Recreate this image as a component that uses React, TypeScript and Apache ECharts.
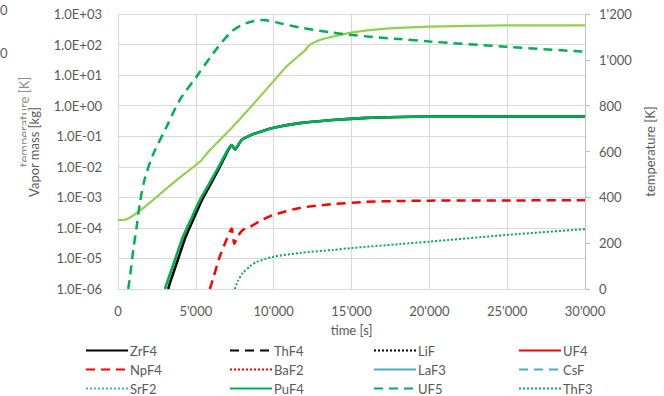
import React, { useEffect, useRef } from "react";
import * as echarts from "echarts";

// ---- tick settings ----
const xMin = 0;
const xMax = 30000;
const xStep = 5000;
const massMin = 1e-6;
const massMax = 1e3;
const tempMin = 0;
const tempMax = 1200;
const tempStep = 200;

// ---- legend names ----
const legendNames = [
  "ZrF4", "ThF4", "LiF", "UF4",
  "NpF4", "BaF2", "LaF3", "CsF",
  "SrF2", "PuF4", "UF5", "ThF3",
];

// ---- series data (time [s], vapor mass [kg]) ----
const zrf4T = [3220, 3340, 3840, 4340, 4830, 5390, 5880, 6430, 6730, 7080, 7320, 7510, 7950, 8500, 9100, 9936, 11667, 13782, 15962, 18077, 20000, 25000, 30000];
const zrf4V = [1e-6, 1.58e-6, 8.9e-6, 5.0e-5, 1.86e-4, 8.1e-4, 2.34e-3, 7.8e-3, 0.0155, 0.0355, 0.05, 0.037, 0.076, 0.107, 0.138, 0.186, 0.269, 0.339, 0.398, 0.427, 0.437, 0.44, 0.44];

const puf4T = [3013, 3141, 3654, 4167, 4679, 5256, 5769, 6346, 6667, 7051, 7308, 7500, 7950, 8500, 9100, 9936, 11667, 13782, 15962, 18077, 20000, 25000, 30000];
const puf4V = [1e-6, 1.58e-6, 8.9e-6, 5.0e-5, 1.86e-4, 8.1e-4, 2.34e-3, 7.8e-3, 0.0155, 0.0355, 0.051, 0.038, 0.076, 0.107, 0.138, 0.186, 0.269, 0.339, 0.398, 0.427, 0.437, 0.44, 0.44];

const npf4T = [5900, 6026, 6538, 7000, 7300, 7470, 7750, 8010, 8460, 9230, 9936, 11667, 13782, 15962, 18077, 20000, 25000, 30000];
const npf4V = [1e-6, 1.6e-6, 1.15e-5, 4.5e-5, 9.5e-5, 3.0e-5, 5.8e-5, 8.5e-5, 1.07e-4, 1.8e-4, 2.6e-4, 4.5e-4, 6.0e-4, 7.1e-4, 7.6e-4, 7.8e-4, 7.9e-4, 8.1e-4];

const uf5T = [660, 769, 981, 1199, 1410, 1700, 2244, 3122, 3974, 5045, 6109, 7288, 8250, 9314, 10385, 11667, 13782, 15064, 18077, 20000, 24936, 30000];
const uf5V = [1e-6, 2.5e-6, 1.9e-5, 1.1e-4, 6.6e-4, 3.7e-3, 0.0245, 0.204, 1.55, 8.9, 51, 263, 501, 631, 501, 363, 245, 204, 151, 126, 85, 58];

const thf3T = [7500, 7700, 8013, 8500, 8910, 9936, 11667, 13782, 15000, 18077, 20000, 25000, 30000];
const thf3V = [1e-6, 1.8e-6, 3.35e-6, 5.6e-6, 7.7e-6, 1.12e-5, 1.51e-5, 1.9e-5, 2.19e-5, 2.95e-5, 3.55e-5, 5.9e-5, 9.1e-5];

// ---- temperature (time [s], K) ----
const tempT = [0, 500, 1000, 1600, 2244, 3141, 4167, 5256, 5897, 7372, 9314, 10814, 12000, 12308, 13000, 13782, 15064, 17000, 20000, 25000, 30000];
const tempK = [300, 303, 322, 352, 388, 440, 497, 555, 606, 708, 854, 970, 1040, 1065, 1088, 1101, 1120, 1135, 1145, 1150, 1150];

const C_BLACK = "#000000";
const C_RED = "#ff0000";
const C_BLUE = "#4bacc6";
const C_GREEN = "#00b050";
const C_LGREEN = "#92d050";
const C_TEXT = "#595959";
const C_GRID = "#d9d9d9";
const FONT = "Lato";

const zip = (t: number[], v: number[]) => t.map((x, i) => [x, v[i]]);
const fmtThousands = (v: number) => String(v).replace(/\B(?=(\d{3})+(?!\d))/g, "'");
const fmtSci = (v: number) => {
  const e = Math.round(Math.log10(v));
  return `1.0E${e < 0 ? "-" : "+"}${String(Math.abs(e)).padStart(2, "0")}`;
};

const DASH = [9, 6];
const DOT = [2, 2];

function mk(name: string, data: number[][], color: string, type: any, width: number, yAxisIndex = 0, smooth = 0.25) {
  return {
    name,
    type: "line",
    yAxisIndex,
    data,
    symbol: "none",
    showSymbol: false,
    smooth,
    clip: true,
    lineStyle: { color, type, width },
    itemStyle: { color },
  };
}

const seriesList = [
  { name: "__temp", data: zip(tempT, tempK), color: C_LGREEN, type: "solid", width: 2.2, y: 1, s: 0.2 },
  { name: "ThF4", data: [], color: C_BLACK, type: DASH, width: 2.5, y: 0, s: 0 },
  { name: "LiF", data: [], color: C_BLACK, type: DOT, width: 2, y: 0, s: 0 },
  { name: "UF4", data: [], color: C_RED, type: "solid", width: 2.5, y: 0, s: 0 },
  { name: "BaF2", data: [], color: C_RED, type: DOT, width: 2, y: 0, s: 0 },
  { name: "LaF3", data: [], color: C_BLUE, type: "solid", width: 3, y: 0, s: 0 },
  { name: "CsF", data: [], color: C_BLUE, type: DASH, width: 2.5, y: 0, s: 0 },
  { name: "SrF2", data: [], color: C_BLUE, type: DOT, width: 2, y: 0, s: 0 },
  { name: "UF5", data: zip(uf5T, uf5V), color: C_GREEN, type: DASH, width: 2.5, y: 0, s: 0.3 },
  { name: "ZrF4", data: zip(zrf4T, zrf4V), color: C_BLACK, type: "solid", width: 2.6, y: 0, s: 0.2 },
  { name: "PuF4", data: zip(puf4T, puf4V), color: C_GREEN, type: "solid", width: 2.6, y: 0, s: 0.2 },
  { name: "NpF4", data: zip(npf4T, npf4V), color: C_RED, type: DASH, width: 2.5, y: 0, s: 0.2 },
  { name: "ThF3", data: zip(thf3T, thf3V), color: C_GREEN, type: DOT, width: 2, y: 0, s: 0.25 },
];

const legendCols = [85, 229, 373, 518];
const legendRows = [344, 363, 382];

export default function App() {
  const ref = useRef<HTMLDivElement>(null);
  useEffect(() => {
    const chart = echarts.init(ref.current!, null, { renderer: "svg" });
    const textStyle = { color: C_TEXT, fontFamily: FONT, fontSize: 13 };
    const option: any = {
      animation: false,
      backgroundColor: "#ffffff",
      textStyle: { fontFamily: FONT },
      grid: { left: 118, right: 78, top: 14, bottom: 107, containLabel: false },
      legend: legendNames.map((n, i) => ({
        data: [n],
        left: legendCols[i % 4],
        top: legendRows[Math.floor(i / 4)],
        itemWidth: 42,
        itemHeight: 14,
        itemGap: 0,
        padding: 0,
        selectedMode: false,
        itemStyle: { opacity: 0 },
        textStyle: { ...textStyle, lineHeight: 13, padding: [0, 0, 0, -3] },
      })),
      xAxis: {
        type: "value",
        min: xMin,
        max: xMax,
        interval: xStep,
        name: "time [s]",
        nameLocation: "middle",
        nameGap: 34,
        nameTextStyle: textStyle,
        axisLine: { show: true, lineStyle: { color: C_GRID, width: 1 } },
        axisTick: { show: false },
        axisLabel: { ...textStyle, margin: 15, formatter: (v: number) => fmtThousands(v) },
        splitLine: { show: true, lineStyle: { color: C_GRID, width: 1 } },
      },
      yAxis: [
        {
          type: "log",
          logBase: 10,
          min: massMin,
          max: massMax,
          splitNumber: 9,
          axisLine: { show: true, lineStyle: { color: C_GRID, width: 1 } },
          axisTick: { show: false },
          minorTick: { show: false },
          axisLabel: { ...textStyle, margin: 16, formatter: (v: number) => fmtSci(v) },
          splitLine: { show: true, lineStyle: { color: C_GRID, width: 1 } },
        },
        {
          type: "value",
          position: "right",
          min: tempMin,
          max: tempMax,
          interval: tempStep,
          name: "temperature [K]",
          nameLocation: "middle",
          nameRotate: 90,
          nameGap: 58,
          nameTextStyle: textStyle,
          axisLine: { show: true, lineStyle: { color: "#bfbfbf", width: 1 } },
          axisTick: { show: true, inside: false, length: 5, lineStyle: { color: "#bfbfbf" } },
          axisLabel: { ...textStyle, margin: 14, formatter: (v: number) => fmtThousands(v) },
          splitLine: { show: false },
        },
      ],
      graphic: [
        { type: "text", left: 0, top: 3, z: 10, style: { text: "0", fill: C_TEXT, font: `13px ${FONT}` } },
        { type: "text", left: 0, top: 46, z: 10, style: { text: "0", fill: C_TEXT, font: `13px ${FONT}` } },
        {
          type: "text", x: 24, y: 122, rotation: Math.PI / 2, z: 10,
          style: { text: "temperature [K]", fill: "#8c8c8c", font: `13px ${FONT}`, align: "center", verticalAlign: "middle" },
        },
        {
          type: "text", x: 34, y: 152, rotation: Math.PI / 2, z: 11,
          style: {
            text: "Vapor mass [kg]", fill: C_TEXT, font: `13px ${FONT}`, align: "center", verticalAlign: "middle",
            backgroundColor: "#ffffff", padding: [1, 2, 1, 2],
          },
        },
      ],
      series: seriesList.map((s) => mk(s.name, s.data, s.color, s.type, s.width, s.y, s.s)),
    };
    chart.setOption(option);
    return () => chart.dispose();
  }, []);
  return <div ref={ref} style={{ position: "fixed", left: 0, top: 0, width: 664, height: 396 }} />;
}
